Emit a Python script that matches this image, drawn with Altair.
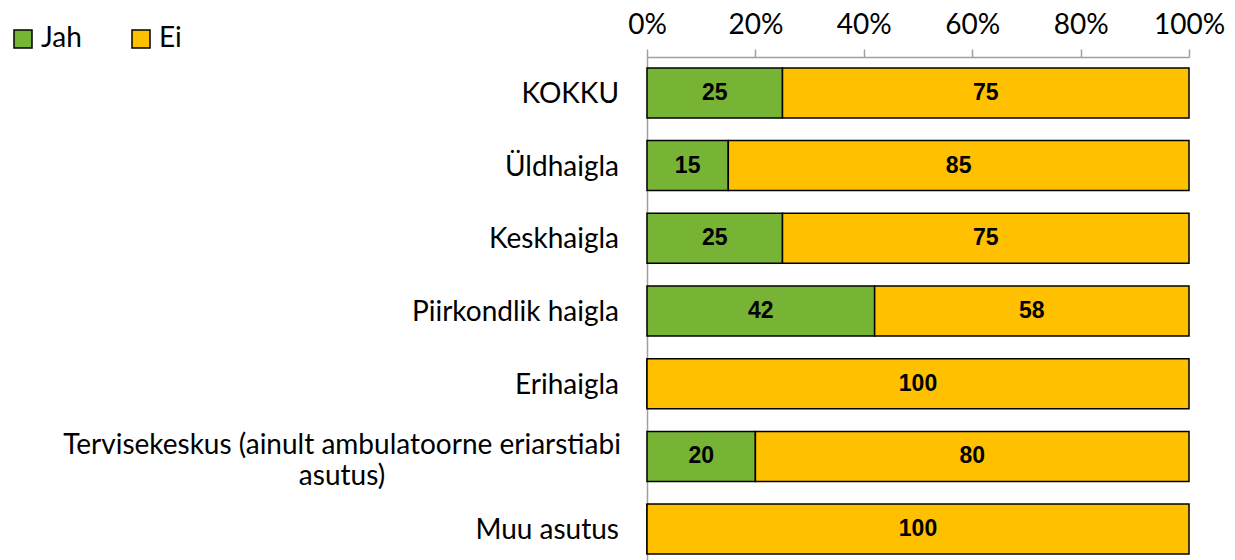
import altair as alt
import pandas as pd

categories = ["KOKKU", "Üldhaigla", "Keskhaigla", "Piirkondlik haigla", "Erihaigla",
              "Tervisekeskus (ainult ambulatoorne eriarstiabi asutus)", "Muu asutus"]
cat_lines = {
    "Tervisekeskus (ainult ambulatoorne eriarstiabi asutus)":
        ["Tervisekeskus (ainult ambulatoorne eriarstiabi", "asutus)"],
}
series = ["Jah", "Ei"]
jah = [25, 15, 25, 42, 0, 20, 0]
ei = [75, 85, 75, 58, 100, 80, 100]
colors = ["#77B334", "#FFC000"]
ticks = [0, 20, 40, 60, 80, 100]

rows = []
for i, c in enumerate(categories):
    start = 0
    for k, (s, v) in enumerate(zip(series, [jah[i], ei[i]])):
        rows.append({"cat": c, "series": s, "order": k, "value": v,
                     "start": start, "end": start + v, "mid": start + v / 2,
                     "label": str(v) if v > 0 else ""})
        start += v
df = pd.DataFrame(rows)

lab_df = pd.DataFrame({"cat": [c for c in categories if c not in cat_lines]})
long_df = pd.DataFrame({"cat": list(cat_lines.keys()),
                        "text": [lines for lines in cat_lines.values()]})

FONT = "Lato"
FS = 28

y_enc = alt.Y("cat:N", sort=categories,
              scale=alt.Scale(paddingInner=0.312, paddingOuter=0.15),
              axis=alt.Axis(title=None, labels=False, ticks=False, domain=True,
                            domainColor="#A0A0A0", domainWidth=1.5))

x_scale = alt.Scale(domain=[0, 100], nice=False, zero=True)

bars = alt.Chart(df).mark_bar(stroke="black", strokeWidth=1.5).encode(
    x=alt.X("start:Q", scale=x_scale,
            axis=alt.Axis(orient="top", title=None, values=ticks, grid=False,
                          labelExpr="datum.value + '%'", labelFont=FONT,
                          labelFontSize=FS, labelColor="black", labelPadding=10,
                          labelFlush=False, labelOverlap=False,
                          tickSize=8, tickColor="#A0A0A0", tickWidth=1.5,
                          domainColor="#A0A0A0", domainWidth=1.5)),
    x2="end:Q",
    y=y_enc,
    color=alt.Color("series:N", sort=series,
                    scale=alt.Scale(domain=series, range=colors),
                    legend=alt.Legend(title=None, orient="none", direction="horizontal",
                                      legendX=-638, legendY=-32,
                                      symbolType="square", symbolSize=324,
                                      symbolStrokeColor="black", symbolStrokeWidth=1.5,
                                      labelFont=FONT, labelFontSize=FS,
                                      labelColor="black", labelOffset=4,
                                      columnPadding=45)),
    order="order:Q",
)

vals = alt.Chart(df).mark_text(font="Liberation Sans", fontWeight="bold",
                               fontSize=23, color="black").encode(
    x=alt.X("mid:Q", scale=x_scale),
    y=alt.Y("cat:N", sort=categories),
    text="label:N",
)

cat_labels = alt.Chart(lab_df).mark_text(align="right", baseline="middle", font=FONT,
                                         fontSize=FS, color="black", dy=2).encode(
    x=alt.value(-28),
    y=alt.Y("cat:N", sort=categories),
    text="cat:N",
)

long_labels = alt.Chart(long_df).mark_text(align="center", baseline="middle", font=FONT,
                                           fontSize=FS, color="black",
                                           lineHeight=31, dy=-10).encode(
    x=alt.value(-305),
    y=alt.Y("cat:N", sort=categories),
    text="text",
)

chart = alt.layer(bars, vals, cat_labels, long_labels).properties(
    width=542, height=508,
    autosize=alt.AutoSizeParams(type="none"),
    padding={"left": 639, "top": 49, "right": 38, "bottom": 0},
).configure_view(stroke=None)

chart.save("out.html", embed_options={"renderer": "svg", "actions": False})
